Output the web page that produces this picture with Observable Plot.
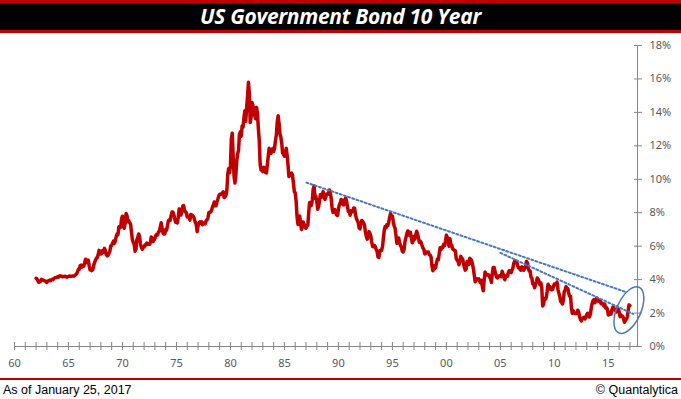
<!DOCTYPE html>
<html>
<head>
<meta charset="utf-8">
<script src="https://cdn.jsdelivr.net/npm/d3@7"></script>
<script src="https://cdn.jsdelivr.net/npm/@observablehq/plot@0.6"></script>
<style>
  html, body { margin: 0; padding: 0; background: #fff; }
  body { width: 681px; height: 399px; overflow: hidden; font-family: "Liberation Sans", sans-serif; }
  #title {
    box-sizing: border-box; height: 33px;
    border-top: 3px solid #c00000; border-bottom: 3px solid #c00000;
    background: #000; color: #fff; text-align: center;
    font: italic bold 21px/27px "Open Sans", sans-serif; letter-spacing: -0.3px;
  }
  #chart svg { display: block; }
  #rule { height: 2px; background: #c00000; }
  #caption {
    height: 19px; display: flex; justify-content: space-between; align-items: center;
    padding: 0 3px; font: 12.5px "Liberation Sans", sans-serif; color: #000;
  }
</style>
</head>
<body>
<div id="title">US Government Bond 10 Year</div>
<div id="chart"></div>
<div id="rule"></div>
<div id="caption"><span>As of January 25, 2017</span><span>© Quantalytica</span></div>
<script>
// Monthly 10-year yield (%), starting January 1962
const startYear = 1962;
const yield60s = [
  4.08,4.04,3.93,3.84,3.87,3.91,4.01,3.98,3.98,3.93,3.92,3.86, // 1962
  3.83,3.92,3.93,3.97,3.93,3.99,4.02,4.00,4.08,4.11,4.12,4.13, // 1963
  4.17,4.15,4.22,4.23,4.20,4.17,4.19,4.19,4.20,4.19,4.15,4.18, // 1964
  4.19,4.21,4.21,4.20,4.21,4.21,4.20,4.25,4.29,4.35,4.45,4.62, // 1965
  4.61,4.83,4.87,4.75,4.78,4.81,5.02,5.22,5.18,5.01,5.16,4.84, // 1966
  4.58,4.63,4.54,4.59,4.85,5.02,5.16,5.28,5.30,5.48,5.75,5.70, // 1967
  5.53,5.56,5.74,5.64,5.87,5.72,5.50,5.42,5.46,5.58,5.70,6.03, // 1968
  6.04,6.19,6.30,6.17,6.32,6.57,6.72,6.69,7.16,7.10,7.14,7.65  // 1969
];
const yield70s = [
  7.79,7.24,7.07,7.39,7.95,7.84,7.46,7.53,7.39,7.33,6.84,6.39, // 1970
  6.24,6.11,5.70,5.83,6.39,6.52,6.73,6.58,6.14,5.93,5.81,5.93, // 1971
  5.95,6.08,6.07,6.19,6.13,6.11,6.11,6.21,6.55,6.48,6.28,6.36, // 1972
  6.46,6.64,6.71,6.67,6.85,6.90,7.13,7.40,7.09,6.79,6.73,6.74, // 1973
  6.99,6.96,7.21,7.51,7.58,7.54,7.81,8.04,8.04,7.90,7.68,7.43, // 1974
  7.50,7.39,7.73,8.23,8.06,7.86,8.06,8.40,8.43,8.14,8.05,8.00, // 1975
  7.74,7.79,7.73,7.56,7.90,7.86,7.83,7.77,7.59,7.41,7.29,6.87, // 1976
  7.21,7.39,7.46,7.37,7.46,7.28,7.33,7.40,7.34,7.52,7.58,7.69, // 1977
  8.01,8.03,8.04,8.15,8.35,8.46,8.64,8.41,8.42,8.64,8.81,9.01, // 1978
  9.10,9.10,9.12,9.18,9.25,8.91,8.95,9.03,9.33,10.30,10.65,10.39 // 1979
];
const yield80s = [
  10.80,12.41,12.75,11.47,10.18,9.78,10.25,11.10,11.51,11.75,12.68,12.84, // 1980
  12.57,13.19,13.12,13.68,14.10,13.47,14.28,14.94,15.80,15.15,13.39,13.72, // 1981
  14.59,14.43,13.86,13.87,13.62,14.30,13.95,13.06,12.34,10.91,10.55,10.54, // 1982
  10.46,10.72,10.51,10.40,10.38,10.85,11.38,11.85,11.65,11.54,11.69,11.83, // 1983
  11.67,11.84,12.32,12.63,13.41,13.80,13.36,12.72,12.52,12.16,11.57,11.50, // 1984
  11.38,11.51,11.86,11.43,10.85,10.16,10.31,10.33,10.37,10.24,9.78,9.26,   // 1985
  9.19,8.70,7.78,7.30,7.71,7.80,7.30,7.00,7.45,7.43,7.25,7.11,             // 1986
  7.08,7.25,7.25,8.02,8.61,8.40,8.45,8.76,9.42,9.60,8.86,8.99,             // 1987
  8.67,8.21,8.37,8.72,9.09,8.92,9.06,9.26,8.98,8.80,8.96,9.11,             // 1988
  9.09,9.17,9.36,9.18,8.86,8.28,8.02,8.11,8.19,8.01,7.87,7.84              // 1989
];
const yield90s = [
  8.21,8.47,8.59,8.79,8.76,8.48,8.47,8.75,8.89,8.72,8.39,8.08, // 1990
  8.09,7.85,8.11,8.04,8.07,8.28,8.27,7.90,7.65,7.53,7.42,7.09, // 1991
  7.03,7.34,7.54,7.48,7.39,7.26,6.84,6.59,6.42,6.59,6.87,6.77, // 1992
  6.60,6.26,5.98,5.97,6.04,5.96,5.81,5.68,5.36,5.33,5.72,5.77, // 1993
  5.75,5.97,6.48,6.97,7.18,7.10,7.30,7.24,7.46,7.74,7.96,7.81, // 1994
  7.78,7.47,7.20,7.06,6.63,6.17,6.28,6.49,6.20,6.04,5.93,5.71, // 1995
  5.65,5.81,6.27,6.51,6.74,6.91,6.87,6.64,6.83,6.53,6.20,6.30, // 1996
  6.58,6.42,6.69,6.89,6.71,6.49,6.22,6.30,6.21,6.03,5.88,5.81, // 1997
  5.54,5.57,5.65,5.64,5.65,5.50,5.46,5.34,4.81,4.53,4.83,4.65, // 1998
  4.72,5.00,5.23,5.18,5.54,5.90,5.79,5.94,5.92,6.11,6.03,6.28  // 1999
];
const yield00s = [
  6.66,6.52,6.26,5.99,6.44,6.10,6.05,5.83,5.80,5.74,5.72,5.24, // 2000
  5.16,5.10,4.89,5.14,5.39,5.28,5.24,4.97,4.73,4.57,4.65,5.09, // 2001
  5.04,4.91,5.28,5.21,5.16,4.93,4.65,4.26,3.87,3.94,4.05,4.03, // 2002
  4.05,3.90,3.81,3.96,3.57,3.33,3.98,4.45,4.27,4.29,4.30,4.27, // 2003
  4.15,4.08,3.83,4.35,4.72,4.73,4.50,4.28,4.13,4.10,4.19,4.23, // 2004
  4.22,4.17,4.50,4.34,4.14,4.00,4.18,4.26,4.20,4.46,4.54,4.47, // 2005
  4.42,4.57,4.72,4.99,5.11,5.11,5.09,4.88,4.72,4.73,4.60,4.56, // 2006
  4.76,4.72,4.56,4.69,4.75,5.10,5.00,4.67,4.52,4.53,4.15,4.10, // 2007
  3.74,3.74,3.51,3.68,3.88,4.10,4.01,3.89,3.69,3.81,3.53,2.42, // 2008
  2.52,2.87,2.82,2.93,3.29,3.72,3.56,3.59,3.40,3.39,3.40,3.59  // 2009
];
const yield10s = [
  3.73,3.69,3.73,3.85,3.42,3.20,3.01,2.70,2.65,2.54,2.76,3.29, // 2010
  3.39,3.58,3.41,3.46,3.17,3.00,3.00,2.30,1.98,2.15,2.01,1.98, // 2011
  1.97,1.97,2.17,2.05,1.80,1.62,1.53,1.68,1.72,1.75,1.65,1.72, // 2012
  1.91,1.98,1.96,1.76,1.93,2.30,2.58,2.74,2.81,2.62,2.72,2.90, // 2013
  2.86,2.71,2.72,2.71,2.56,2.60,2.54,2.42,2.53,2.30,2.33,2.21, // 2014
  1.88,1.98,2.04,1.94,2.20,2.36,2.32,2.17,2.17,2.07,2.26,2.24, // 2015
  2.09,1.78,1.89,1.81,1.81,1.64,1.45,1.56,1.63,1.76,2.14,2.49, // 2016
  2.45                                                         // Jan 2017
];

// Axis ticks
const xDomain = [1960, 2017.7];
const xTickYears = d3.range(1960, 2018);
const xLabelYears = [1960, 1965, 1970, 1975, 1980, 1985, 1990, 1995, 2000, 2005, 2010, 2015];
const yTicks = [0, 2, 4, 6, 8, 10, 12, 14, 16, 18];

// Annotations (data units)
const trendUpperYears = [1987.04, 2016.67];
const trendUpperValues = [9.8, 3.25];
const trendLowerYears = [2005.0, 2017.3];
const trendLowerValues = [5.6, 1.95];
const ellipseYear = 2016.95;
const ellipseValue = 2.15;

const allYields = [...yield60s, ...yield70s, ...yield80s, ...yield90s, ...yield00s, ...yield10s];
const series = allYields.map((v, i) => ({t: startYear + i / 12, v}));
const trendUpper = trendUpperYears.map((t, i) => ({t, v: trendUpperValues[i]}));
const trendLower = trendLowerYears.map((t, i) => ({t, v: trendLowerValues[i]}));

const axisGray = "#868686";
const dotted = {x: "t", y: "v", stroke: "#4a78c0", strokeWidth: 2, strokeDasharray: "2,2.4"};

const plot = Plot.plot({
  width: 681,
  height: 345,
  marginLeft: 14,
  marginRight: 44,
  marginTop: 12,
  marginBottom: 32,
  x: {domain: xDomain},
  y: {domain: [0, 18]},
  style: {fontFamily: "'Noto Sans', sans-serif", fontSize: "11px", color: "#595959", background: "transparent", overflow: "visible"},
  marks: [
    Plot.ruleY([0], {stroke: axisGray}),
    Plot.ruleX([xDomain[1]], {stroke: axisGray}),
    Plot.axisX({ticks: xTickYears, tickSize: 8, dy: -4, tickFormat: () => "", stroke: axisGray, label: null}),
    Plot.axisX({ticks: xLabelYears, tickSize: 0, tickPadding: 13, tickFormat: d => String(d % 100).padStart(2, "0"), label: null}),
    Plot.axisY({anchor: "right", ticks: yTicks, tickSize: 8, dx: -4, tickFormat: () => "", stroke: axisGray, label: null}),
    Plot.axisY({anchor: "right", ticks: yTicks, tickSize: 0, tickPadding: 12, textAnchor: "start", tickFormat: d => d + "%", label: null}),
    Plot.line(series, {x: "t", y: "v", stroke: "#c00000", strokeWidth: 3.5, strokeLinejoin: "round"}),
    Plot.line(trendUpper, dotted),
    Plot.line(trendLower, dotted)
  ]
});

const sx = plot.scale("x"), sy = plot.scale("y");
const cx = sx.apply(ellipseYear), cy = sy.apply(ellipseValue);
d3.select(plot).append("ellipse")
  .attr("cx", 0).attr("cy", 0).attr("rx", 12).attr("ry", 25)
  .attr("transform", `translate(${cx},${cy}) rotate(24)`)
  .attr("fill", "none").attr("stroke", "#4a78c0").attr("stroke-width", 1.5);

document.getElementById("chart").appendChild(plot);
</script>
</body>
</html>
